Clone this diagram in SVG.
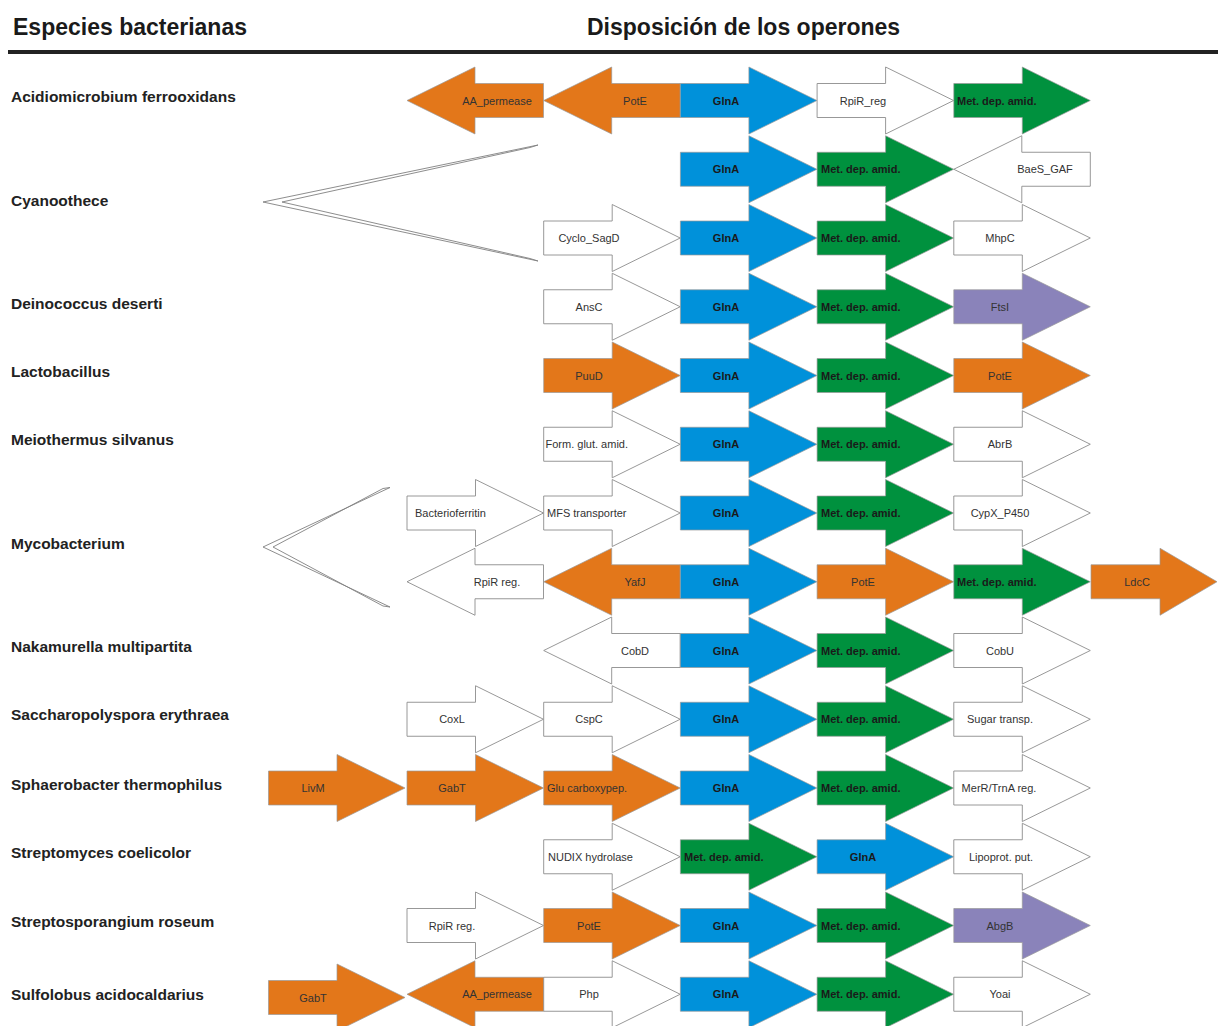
<svg xmlns="http://www.w3.org/2000/svg" width="1218" height="1026" viewBox="0 0 1218 1026">
<defs>
<path id="ra" d="M0,-17 H68.5 V-33.5 L136.5,0 L68.5,33.5 V17 H0 Z"/>
<path id="la" d="M136.5,-17 H68 V-33.5 L0,0 L68,33.5 V17 H136.5 Z"/>
</defs>
<style>
.w{fill:#ffffff;stroke:#8c8c8c;stroke-width:0.9}
.o{fill:#E3771A;stroke:#9a9a9a;stroke-width:0.7}
.b{fill:#0091DA;stroke:#9a9a9a;stroke-width:0.7}
.g{fill:#00913E;stroke:#9a9a9a;stroke-width:0.7}
.p{fill:#8A83BA;stroke:#9a9a9a;stroke-width:0.7}
.t{font-family:"Liberation Sans",Arial,sans-serif;font-size:11px;fill:#333333;text-anchor:middle}
.s{text-anchor:start}
.bt{font-weight:bold;fill:#1a1a1a}
.sp{font-family:"Liberation Sans",Arial,sans-serif;font-size:15.5px;font-weight:bold;fill:#222222}
.hd{font-family:"Liberation Sans",Arial,sans-serif;font-size:23px;font-weight:bold;fill:#1a1a1a}
.br{fill:#ffffff;stroke:#808080;stroke-width:0.9}
</style>
<rect width="1218" height="1026" fill="#ffffff"/>
<g id="header">
<text class="hd" x="13" y="35">Especies bacterianas</text>
<text class="hd" x="587" y="35">Disposición de los operones</text>
<rect x="8" y="50" width="1210" height="4" fill="#222222"/>
</g>
<g id="species">
<text class="sp" x="11" y="102">Acidiomicrobium ferrooxidans</text>
<text class="sp" x="11" y="206">Cyanoothece</text>
<text class="sp" x="11" y="309">Deinococcus deserti</text>
<text class="sp" x="11" y="377">Lactobacillus</text>
<text class="sp" x="11" y="445">Meiothermus silvanus</text>
<text class="sp" x="11" y="549">Mycobacterium</text>
<text class="sp" x="11" y="652">Nakamurella multipartita</text>
<text class="sp" x="11" y="720">Saccharopolyspora erythraea</text>
<text class="sp" x="11" y="790">Sphaerobacter thermophilus</text>
<text class="sp" x="11" y="858">Streptomyces coelicolor</text>
<text class="sp" x="11" y="927">Streptosporangium roseum</text>
<text class="sp" x="11" y="1000">Sulfolobus acidocaldarius</text>
</g>
<g id="connectors">
<path class="br" d="M538,145 L263,202 L538,261 L530,258.5 L282,202 L530,147.5 Z"/>
<path class="br" d="M390,487.5 L263,547 L390,607 L383,606 L273,547 L383,488.5 Z"/>
</g>
<g id="r0">
<g id="r0a"><use href="#la" class="o" x="407" y="100.5"/><text class="t" x="497" y="104.5">AA_permease</text></g>
<g id="r0b"><use href="#la" class="o" x="543.7" y="100.5"/><text class="t" x="635" y="104.5">PotE</text></g>
<g id="r0c"><use href="#ra" class="b" x="680.4" y="100.5"/><text class="t bt" x="726" y="104.5">GlnA</text></g>
<g id="r0d"><use href="#ra" class="w" x="817.1" y="100.5"/><text class="t" x="863" y="104.5">RpiR_reg</text></g>
<g id="r0e"><use href="#ra" class="g" x="953.8" y="100.5"/><text class="t bt s" x="957" y="104.5">Met. dep. amid.</text></g>
</g>
<g id="r1">
<g id="r1a"><use href="#ra" class="b" x="680.4" y="169.25"/><text class="t bt" x="726" y="173.25">GlnA</text></g>
<g id="r1b"><use href="#ra" class="g" x="817.1" y="169.25"/><text class="t bt s" x="821" y="173.25">Met. dep. amid.</text></g>
<g id="r1c"><use href="#la" class="w" x="953.8" y="169.25"/><text class="t" x="1045" y="173.25">BaeS_GAF</text></g>
</g>
<g id="r2">
<g id="r2a"><use href="#ra" class="w" x="543.7" y="238"/><text class="t" x="589" y="242">Cyclo_SagD</text></g>
<g id="r2b"><use href="#ra" class="b" x="680.4" y="238"/><text class="t bt" x="726" y="242">GlnA</text></g>
<g id="r2c"><use href="#ra" class="g" x="817.1" y="238"/><text class="t bt s" x="821" y="242">Met. dep. amid.</text></g>
<g id="r2d"><use href="#ra" class="w" x="953.8" y="238"/><text class="t" x="1000" y="242">MhpC</text></g>
</g>
<g id="r3">
<g id="r3a"><use href="#ra" class="w" x="543.7" y="306.75"/><text class="t" x="589" y="310.75">AnsC</text></g>
<g id="r3b"><use href="#ra" class="b" x="680.4" y="306.75"/><text class="t bt" x="726" y="310.75">GlnA</text></g>
<g id="r3c"><use href="#ra" class="g" x="817.1" y="306.75"/><text class="t bt s" x="821" y="310.75">Met. dep. amid.</text></g>
<g id="r3d"><use href="#ra" class="p" x="953.8" y="306.75"/><text class="t" x="1000" y="310.75">FtsI</text></g>
</g>
<g id="r4">
<g id="r4a"><use href="#ra" class="o" x="543.7" y="375.5"/><text class="t" x="589" y="379.5">PuuD</text></g>
<g id="r4b"><use href="#ra" class="b" x="680.4" y="375.5"/><text class="t bt" x="726" y="379.5">GlnA</text></g>
<g id="r4c"><use href="#ra" class="g" x="817.1" y="375.5"/><text class="t bt s" x="821" y="379.5">Met. dep. amid.</text></g>
<g id="r4d"><use href="#ra" class="o" x="953.8" y="375.5"/><text class="t" x="1000" y="379.5">PotE</text></g>
</g>
<g id="r5">
<g id="r5a"><use href="#ra" class="w" x="543.7" y="444.25"/><text class="t s" x="545.5" y="448.25">Form. glut. amid.</text></g>
<g id="r5b"><use href="#ra" class="b" x="680.4" y="444.25"/><text class="t bt" x="726" y="448.25">GlnA</text></g>
<g id="r5c"><use href="#ra" class="g" x="817.1" y="444.25"/><text class="t bt s" x="821" y="448.25">Met. dep. amid.</text></g>
<g id="r5d"><use href="#ra" class="w" x="953.8" y="444.25"/><text class="t" x="1000" y="448.25">AbrB</text></g>
</g>
<g id="r6">
<g id="r6a"><use href="#ra" class="w" x="407" y="513"/><text class="t s" x="415" y="517">Bacterioferritin</text></g>
<g id="r6b"><use href="#ra" class="w" x="543.7" y="513"/><text class="t s" x="547" y="517">MFS transporter</text></g>
<g id="r6c"><use href="#ra" class="b" x="680.4" y="513"/><text class="t bt" x="726" y="517">GlnA</text></g>
<g id="r6d"><use href="#ra" class="g" x="817.1" y="513"/><text class="t bt s" x="821" y="517">Met. dep. amid.</text></g>
<g id="r6e"><use href="#ra" class="w" x="953.8" y="513"/><text class="t" x="1000" y="517">CypX_P450</text></g>
</g>
<g id="r7">
<g id="r7a"><use href="#la" class="w" x="407" y="581.75"/><text class="t" x="497" y="585.75">RpiR reg.</text></g>
<g id="r7b"><use href="#la" class="o" x="543.7" y="581.75"/><text class="t" x="635" y="585.75">YafJ</text></g>
<g id="r7c"><use href="#ra" class="b" x="680.4" y="581.75"/><text class="t bt" x="726" y="585.75">GlnA</text></g>
<g id="r7d"><use href="#ra" class="o" x="817.1" y="581.75"/><text class="t" x="863" y="585.75">PotE</text></g>
<g id="r7e"><use href="#ra" class="g" x="953.8" y="581.75"/><text class="t bt s" x="957" y="585.75">Met. dep. amid.</text></g>
<g id="r7f"><path class="o" d="M1091,564.75 H1160 V548.25 L1217,581.75 L1160,615.25 V598.75 H1091 Z"/><text class="t" x="1137" y="585.75">LdcC</text></g>
</g>
<g id="r8">
<g id="r8a"><use href="#la" class="w" x="543.7" y="650.5"/><text class="t" x="635" y="654.5">CobD</text></g>
<g id="r8b"><use href="#ra" class="b" x="680.4" y="650.5"/><text class="t bt" x="726" y="654.5">GlnA</text></g>
<g id="r8c"><use href="#ra" class="g" x="817.1" y="650.5"/><text class="t bt s" x="821" y="654.5">Met. dep. amid.</text></g>
<g id="r8d"><use href="#ra" class="w" x="953.8" y="650.5"/><text class="t" x="1000" y="654.5">CobU</text></g>
</g>
<g id="r9">
<g id="r9a"><use href="#ra" class="w" x="407" y="719.25"/><text class="t" x="452" y="723.25">CoxL</text></g>
<g id="r9b"><use href="#ra" class="w" x="543.7" y="719.25"/><text class="t" x="589" y="723.25">CspC</text></g>
<g id="r9c"><use href="#ra" class="b" x="680.4" y="719.25"/><text class="t bt" x="726" y="723.25">GlnA</text></g>
<g id="r9d"><use href="#ra" class="g" x="817.1" y="719.25"/><text class="t bt s" x="821" y="723.25">Met. dep. amid.</text></g>
<g id="r9e"><use href="#ra" class="w" x="953.8" y="719.25"/><text class="t" x="1000" y="723.25">Sugar transp.</text></g>
</g>
<g id="r10">
<g id="r10a"><use href="#ra" class="o" x="268.5" y="788"/><text class="t" x="313" y="792">LivM</text></g>
<g id="r10b"><use href="#ra" class="o" x="407" y="788"/><text class="t" x="452" y="792">GabT</text></g>
<g id="r10c"><use href="#ra" class="o" x="543.7" y="788"/><text class="t s" x="547" y="792">Glu carboxypep.</text></g>
<g id="r10d"><use href="#ra" class="b" x="680.4" y="788"/><text class="t bt" x="726" y="792">GlnA</text></g>
<g id="r10e"><use href="#ra" class="g" x="817.1" y="788"/><text class="t bt s" x="821" y="792">Met. dep. amid.</text></g>
<g id="r10f"><use href="#ra" class="w" x="953.8" y="788"/><text class="t" x="999" y="792">MerR/TrnA reg.</text></g>
</g>
<g id="r11">
<g id="r11a"><use href="#ra" class="w" x="543.7" y="856.75"/><text class="t s" x="548" y="860.75">NUDIX hydrolase</text></g>
<g id="r11b"><use href="#ra" class="g" x="680.4" y="856.75"/><text class="t bt s" x="684" y="860.75">Met. dep. amid.</text></g>
<g id="r11c"><use href="#ra" class="b" x="817.1" y="856.75"/><text class="t bt" x="863" y="860.75">GlnA</text></g>
<g id="r11d"><use href="#ra" class="w" x="953.8" y="856.75"/><text class="t" x="1001" y="860.75">Lipoprot. put.</text></g>
</g>
<g id="r12">
<g id="r12a"><use href="#ra" class="w" x="407" y="925.5"/><text class="t" x="452" y="929.5">RpiR reg.</text></g>
<g id="r12b"><use href="#ra" class="o" x="543.7" y="925.5"/><text class="t" x="589" y="929.5">PotE</text></g>
<g id="r12c"><use href="#ra" class="b" x="680.4" y="925.5"/><text class="t bt" x="726" y="929.5">GlnA</text></g>
<g id="r12d"><use href="#ra" class="g" x="817.1" y="925.5"/><text class="t bt s" x="821" y="929.5">Met. dep. amid.</text></g>
<g id="r12e"><use href="#ra" class="p" x="953.8" y="925.5"/><text class="t" x="1000" y="929.5">AbgB</text></g>
</g>
<g id="r13">
<g id="r13a"><use href="#ra" class="o" x="268.5" y="997.5"/><text class="t" x="313" y="1001.5">GabT</text></g>
<g id="r13c"><use href="#ra" class="w" x="543.7" y="994.25"/><text class="t" x="589" y="998.25">Php</text></g>
<g id="r13b"><use href="#la" class="o" x="407" y="994.25"/><text class="t" x="497" y="998.25">AA_permease</text></g>
<g id="r13d"><use href="#ra" class="b" x="680.4" y="994.25"/><text class="t bt" x="726" y="998.25">GlnA</text></g>
<g id="r13e"><use href="#ra" class="g" x="817.1" y="994.25"/><text class="t bt s" x="821" y="998.25">Met. dep. amid.</text></g>
<g id="r13f"><use href="#ra" class="w" x="953.8" y="994.25"/><text class="t" x="1000" y="998.25">Yoai</text></g>
</g>
</svg>
